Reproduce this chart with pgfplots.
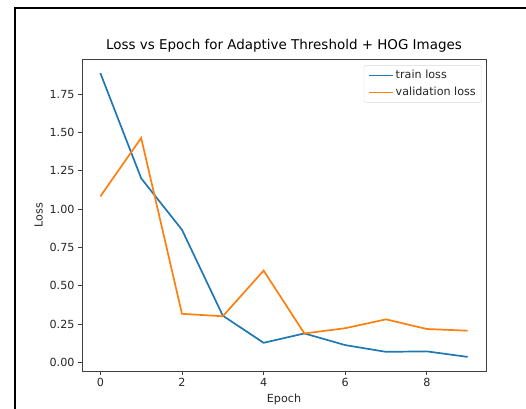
\documentclass[border=0pt]{standalone}
\usepackage{pgfplots}
\pgfplotsset{compat=1.18}
\usepackage{fontspec}
\setmainfont{DejaVu Sans}
\definecolor{tblue}{HTML}{1F77B4}
\definecolor{torange}{HTML}{FF7F0E}
\definecolor{txt}{HTML}{262626}
\begin{document}
\begin{tikzpicture}[x=1bp,y=1bp]
\useasboundingbox (0,0) rectangle (526,408);
\draw[line width=2.2bp] (15,-2) -- (15,400) -- (528,400);
\begin{axis}[
  at={(82bp,37bp)}, anchor=south west,
  width=404bp, height=312bp, scale only axis,
  xmin=-0.45, xmax=9.45, ymin=-0.055, ymax=1.98,
  xtick={0,2,4,6,8},
  ytick={0,0.25,0.5,0.75,1,1.25,1.5,1.75},
  axis line style={black!75, line width=0.9bp},
  tick style={black!75, line width=0.9bp},
  tick align=outside, major tick length=4bp,
  xtick pos=bottom, ytick pos=left,
  /pgf/number format/assume math mode=true,
  yticklabel style={/pgf/number format/fixed, /pgf/number format/fixed zerofill, /pgf/number format/precision=2},
  ticklabel style={font=\fontsize{11.2}{13}\selectfont, text=txt},
  xlabel={Epoch}, ylabel={Loss},
  label style={font=\fontsize{11.2}{13}\selectfont, text=txt},
  title={Loss vs Epoch for Adaptive Threshold + HOG Images},
  title style={font=\fontsize{13.5}{16}\selectfont, text=black, yshift=-3bp},
  legend style={at={(0.99,0.98)}, anchor=north east, draw=black!15, rounded corners=2bp,
    font=\fontsize{11.2}{13}\selectfont, text=txt, inner xsep=4bp, inner ysep=3bp, row sep=3bp},
  legend cell align=left,
  legend image code/.code={\draw[#1, line width=1.7bp] (0bp,0bp) -- (24bp,0bp);},
]
\addplot[tblue, line width=1.7bp] coordinates {
(0,1.888) (1,1.202) (2,0.866) (3,0.306) (4,0.129) (5,0.190) (6,0.114) (7,0.070) (8,0.073) (9,0.037)};
\addlegendentry{train loss}
\addplot[torange, line width=1.7bp] coordinates {
(0,1.084) (1,1.465) (2,0.318) (3,0.302) (4,0.600) (5,0.190) (6,0.224) (7,0.282) (8,0.219) (9,0.208)};
\addlegendentry{validation loss}
\end{axis}
\end{tikzpicture}
\end{document}
